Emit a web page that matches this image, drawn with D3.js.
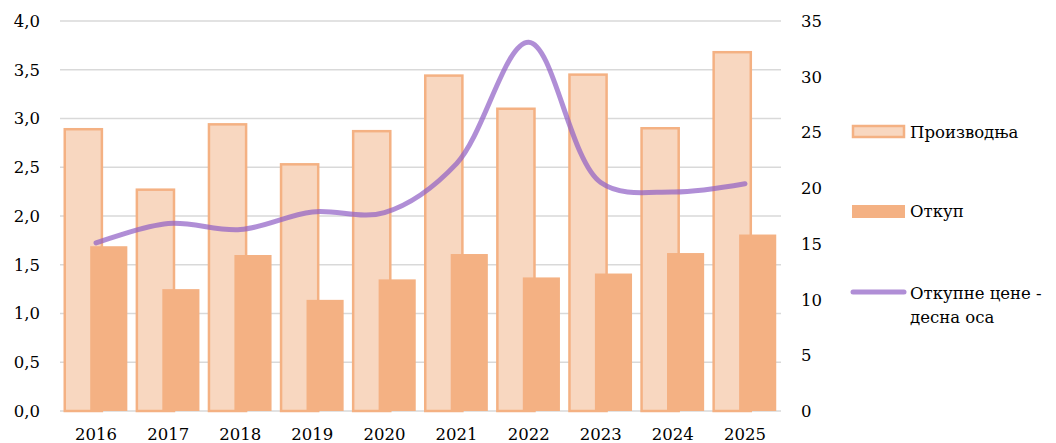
<!DOCTYPE html>
<html lang="sr">
    <head>
        <meta charset="utf-8">
        <title>Производња и откуп</title>
        <script type="text/javascript" src="https://cdn.jsdelivr.net/npm/d3@7/dist/d3.min.js"></script>
        <style>
            body { margin: 0; background: #fff; }
            text { font-family: "DejaVu Serif", serif; fill: #000; }
        </style>
    </head>
    <body>
        <script type="text/javascript">
            var w = 1056;
            var h = 443;
            var margin = {top: 21, right: 275, bottom: 32, left: 60};

            // data
            var years = ["2016", "2017", "2018", "2019", "2020", "2021", "2022", "2023", "2024", "2025"];
            var production = [2.89, 2.27, 2.94, 2.53, 2.87, 3.44, 3.10, 3.45, 2.90, 3.68];
            var purchase = [1.69, 1.25, 1.60, 1.14, 1.35, 1.61, 1.37, 1.41, 1.62, 1.81];
            var prices = [15.08, 16.82, 16.28, 17.86, 17.8, 22.2, 33.1, 20.5, 19.66, 20.4];
            var leftTicks = [0, 0.5, 1, 1.5, 2, 2.5, 3, 3.5, 4];
            var rightTicks = [0, 5, 10, 15, 20, 25, 30, 35];
            var legendLabels = ["Производња", "Откуп", "Откупне цене -|десна оса"];

            var fmtLeft = function(d) { return d3.format(".1f")(d).replace(".", ","); };

            var svg = d3.select("body")
                        .append("svg")
                        .attr("width", w)
                        .attr("height", h);

            var xScale = d3.scaleBand()
                           .domain(years)
                           .range([margin.left, w - margin.right]);

            var yScale = d3.scaleLinear()
                           .domain([0, 4])
                           .range([h - margin.bottom, margin.top]);

            var y2Scale = d3.scaleLinear()
                            .domain([0, 35])
                            .range([h - margin.bottom, margin.top]);

            var bw = xScale.bandwidth();
            var barW = bw * 0.515;
            var gap = bw * 0.066;

            // gridlines
            svg.append("g")
               .selectAll("line")
               .data(leftTicks)
               .enter()
               .append("line")
               .attr("x1", margin.left)
               .attr("x2", w - margin.right)
               .attr("y1", function(d) { return yScale(d); })
               .attr("y2", function(d) { return yScale(d); })
               .attr("stroke", "#d9d9d9")
               .attr("stroke-width", 1.3);

            // left axis labels
            svg.append("g")
               .selectAll("text")
               .data(leftTicks)
               .enter()
               .append("text")
               .attr("x", 40)
               .attr("y", function(d) { return yScale(d); })
               .attr("dy", "0.36em")
               .attr("text-anchor", "end")
               .attr("font-size", "16.5px")
               .text(fmtLeft);

            // right axis labels
            svg.append("g")
               .selectAll("text")
               .data(rightTicks)
               .enter()
               .append("text")
               .attr("x", 801)
               .attr("y", function(d) { return y2Scale(d); })
               .attr("dy", "0.36em")
               .attr("text-anchor", "start")
               .attr("font-size", "16.5px")
               .text(function(d) { return d; });

            // x labels
            svg.append("g")
               .selectAll("text")
               .data(years)
               .enter()
               .append("text")
               .attr("x", function(d) { return xScale(d) + bw / 2; })
               .attr("y", 440)
               .attr("text-anchor", "middle")
               .attr("font-size", "16.5px")
               .text(function(d) { return d; });

            // production bars
            svg.append("g")
               .selectAll("rect")
               .data(production)
               .enter()
               .append("rect")
               .attr("x", function(d, i) { return xScale(years[i]) + gap; })
               .attr("y", function(d) { return yScale(d); })
               .attr("width", barW)
               .attr("height", function(d) { return yScale(0) - yScale(d); })
               .attr("fill", "#f8d7c0")
               .attr("stroke", "#f4b183")
               .attr("stroke-width", 2.5);

            // purchase bars
            svg.append("g")
               .selectAll("rect")
               .data(purchase)
               .enter()
               .append("rect")
               .attr("x", function(d, i) { return xScale(years[i]) + bw - gap - barW; })
               .attr("y", function(d) { return yScale(d); })
               .attr("width", barW)
               .attr("height", function(d) { return yScale(0) - yScale(d); })
               .attr("fill", "#f4b183");

            // price line, right axis
            var line = d3.line()
                         .x(function(d, i) { return xScale(years[i]) + bw / 2; })
                         .y(function(d) { return y2Scale(d); })
                         .curve(d3.curveCatmullRom.alpha(0.5));

            svg.append("path")
               .datum(prices)
               .attr("d", line)
               .attr("fill", "none")
               .attr("stroke", "#8e5ec4")
               .attr("stroke-opacity", 0.7)
               .attr("stroke-width", 5)
               .attr("stroke-linecap", "round");

            // legend
            var lg = svg.append("g");
            lg.append("rect")
              .attr("x", 853).attr("y", 126).attr("width", 51).attr("height", 11)
              .attr("fill", "#f8d7c0").attr("stroke", "#f4b183").attr("stroke-width", 2.5);
            lg.append("rect")
              .attr("x", 852).attr("y", 205).attr("width", 53).attr("height", 13)
              .attr("fill", "#f4b183");
            lg.append("line")
              .attr("x1", 853).attr("x2", 904).attr("y1", 292).attr("y2", 292)
              .attr("stroke", "#8e5ec4").attr("stroke-opacity", 0.7)
              .attr("stroke-width", 5).attr("stroke-linecap", "round");

            var legendY = [132, 211, 293];
            legendLabels.forEach(function(l, i) {
                var t = lg.append("text")
                          .attr("x", 910)
                          .attr("y", legendY[i])
                          .attr("dy", "0.36em")
                          .attr("font-size", "16.5px");
                l.split("|").forEach(function(part, j) {
                    t.append("tspan")
                     .attr("x", 910)
                     .attr("dy", j === 0 ? "0.36em" : "1.45em")
                     .text(part);
                });
            });
        </script>
    </body>
</html>
